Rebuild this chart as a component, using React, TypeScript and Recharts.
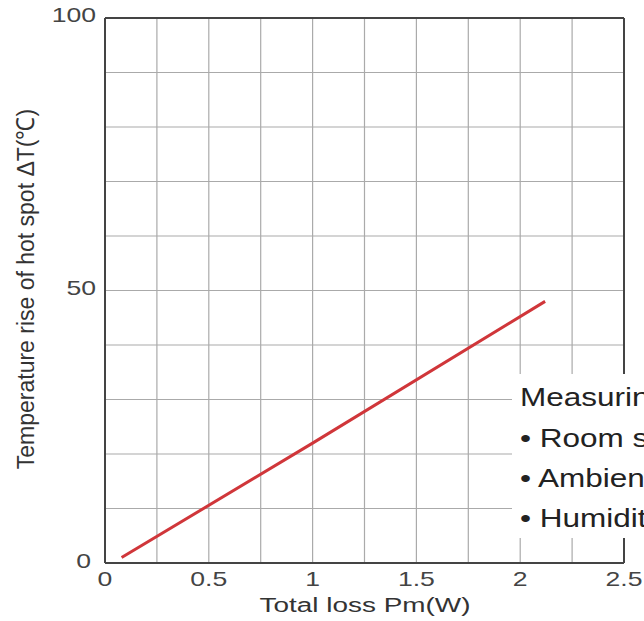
import React from 'react';
import { LineChart, Line, XAxis, YAxis, CartesianGrid, ReferenceLine, Label } from 'recharts';

// values
const lossW = [0.08, 1.0, 2.12];
const tempRise = [1, 22, 48];

const xTicks = [0, 0.25, 0.5, 0.75, 1, 1.25, 1.5, 1.75, 2, 2.25, 2.5];
const yTicks = [0, 10, 20, 30, 40, 50, 60, 70, 80, 90, 100];
const xLabelTicks = [0, 0.5, 1, 1.5, 2, 2.5];
const yLabelTicks = [0, 50, 100];

const noteLines = ['Measuring conditions', '• Room size', '• Ambient temperature', '• Humidity'];

const data = lossW.map((x, i) => ({ x, y: tempRise[i] }));

const FONT = '"Liberation Sans", Arial, sans-serif';
const STRETCH = 1.33;

const XTick = (props: any) => {
    const { x, payload } = props;
    if (!xLabelTicks.includes(payload.value)) return null;
    return (
        <text
            transform={`translate(${x},586) scale(${STRETCH},1)`}
            textAnchor="middle"
            fontFamily={FONT}
            fontSize={20}
            fill="#444"
        >
            {String(payload.value)}
        </text>
    );
};

const YTick = (props: any) => {
    const { x, y, payload } = props;
    if (!yLabelTicks.includes(payload.value)) return null;
    const dy = payload.value === 0 ? 5 : 4;
    const dx = payload.value === 0 ? -5 : 0;
    return (
        <text
            transform={`translate(${x - 1 + dx},${y + dy}) scale(${STRETCH},1)`}
            textAnchor="end"
            fontFamily={FONT}
            fontSize={20}
            fill="#444"
        >
            {String(payload.value)}
        </text>
    );
};

export default function App() {
    return (
        <div style={{ position: 'absolute', left: 0, top: 0, width: 644, height: 621, overflow: 'hidden', background: '#fff' }}>
            <LineChart width={644} height={621} data={data} margin={{ top: 18, right: 20, bottom: 0, left: 0 }}>
                <CartesianGrid stroke="#aaa" strokeWidth={1.2} />
                <XAxis
                    dataKey="x"
                    type="number"
                    domain={[0, 2.5]}
                    ticks={xTicks}
                    interval={0}
                    height={58}
                    tickLine={false}
                    axisLine={{ stroke: '#444', strokeWidth: 2 }}
                    tick={<XTick />}
                >
                    <Label
                        content={() => (
                            <text
                                transform={`translate(365,612) scale(${STRETCH},1)`}
                                textAnchor="middle"
                                fontFamily={FONT}
                                fontSize={21}
                                fill="#333"
                            >
                                Total loss Pm(W)
                            </text>
                        )}
                    />
                </XAxis>
                <YAxis
                    type="number"
                    domain={[0, 100]}
                    ticks={yTicks}
                    interval={0}
                    width={105}
                    tickLine={false}
                    axisLine={{ stroke: '#444', strokeWidth: 2 }}
                    tick={<YTick />}
                >
                    <Label
                        content={() => (
                            <text
                                transform="translate(34,289) scale(1.08,1) rotate(-90)"
                                textAnchor="middle"
                                fontFamily={FONT}
                                fontSize={23}
                                fill="#333"
                            >
                                Temperature rise of hot spot ΔT(℃)
                            </text>
                        )}
                    />
                </YAxis>
                <ReferenceLine y={100} stroke="#444" strokeWidth={2} />
                <ReferenceLine x={2.5} stroke="#444" strokeWidth={2} />
                <Line
                    type="linear"
                    dataKey="y"
                    stroke="#d0363a"
                    strokeWidth={3}
                    dot={false}
                    isAnimationActive={false}
                />
            </LineChart>
            <div
                style={{
                    position: 'absolute',
                    left: 512,
                    top: 374,
                    width: 140,
                    height: 164,
                    background: '#fff',
                    overflow: 'hidden',
                }}
            >
                {noteLines.map((t, i) => (
                    <div
                        key={t}
                        style={{
                            position: 'absolute',
                            left: 8,
                            top: 9 + i * 40 + (i > 0 ? 1 : 0),
                            fontFamily: FONT,
                            fontSize: 25,
                            lineHeight: '28px',
                            color: '#222',
                            whiteSpace: 'nowrap',
                            transform: 'scaleX(1.26)',
                            transformOrigin: 'left',
                        }}
                    >
                        {t}
                    </div>
                ))}
            </div>
        </div>
    );
}
